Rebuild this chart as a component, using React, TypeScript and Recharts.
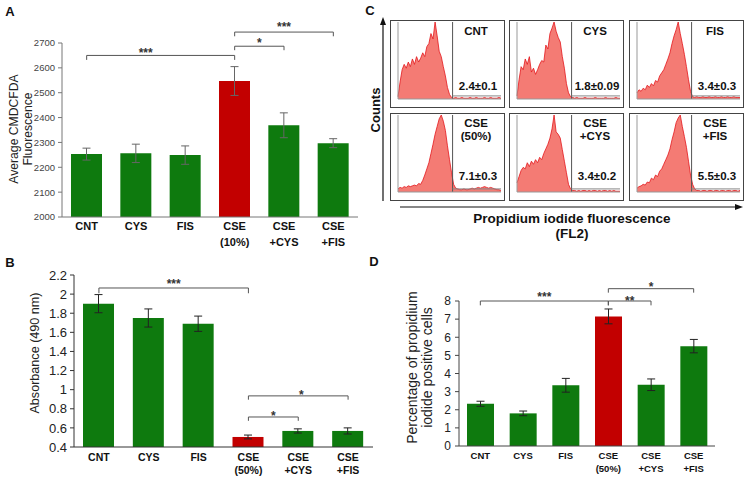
import React from "react";
import { BarChart, Bar, XAxis, YAxis, ErrorBar, Cell, ReferenceLine, AreaChart, Area } from "recharts";

// panel A: CMDCFDA fluorescence
const groupsA = ["CNT", "CYS", "FIS", "CSE\n(10%)", "CSE\n+CYS", "CSE\n+FIS"];
const rosValues = [2253, 2256, 2249, 2547, 2369, 2297];
const rosErrors = [24, 37, 37, 58, 50, 18];
const ticksA = [2000, 2100, 2200, 2300, 2400, 2500, 2600, 2700];

// panel B: absorbance
const groups50 = ["CNT", "CYS", "FIS", "CSE\n(50%)", "CSE\n+CYS", "CSE\n+FIS"];
const absValues = [1.9, 1.75, 1.69, 0.505, 0.568, 0.568];
const absErrors = [0.095, 0.095, 0.08, 0.02, 0.022, 0.032];
const ticksB = [0.4, 0.6, 0.8, 1, 1.2, 1.4, 1.6, 1.8, 2, 2.2];

// panel D: PI positive cells
const piValues = [2.33, 1.8, 3.35, 7.15, 3.38, 5.51];
const piErrors = [0.14, 0.13, 0.38, 0.41, 0.32, 0.37];
const ticksD = [0, 1, 2, 3, 4, 5, 6, 7, 8];

const bracketsA = [
  { from: 0, to: 3, y: 2650, drop: 18, stars: "***", dx: -15, dy: 2 },
  { from: 3, to: 4, y: 2687, drop: 16, stars: "*", dx: 0, dy: 1 },
  { from: 3, to: 5, y: 2744, drop: 17, stars: "***", dx: 0, dy: -1 },
];
const bracketsB = [
  { from: 0, to: 3, y: 2.064, drop: 0.055, stars: "***", dx: 0, dy: 0.5 },
  { from: 3, to: 5, y: 0.935, drop: 0.04, stars: "*", dx: 3, dy: 3 },
  { from: 3, to: 4, y: 0.714, drop: 0.04, stars: "*", dx: 0, dy: 3.5 },
];
const bracketsD = [
  { from: 0, to: 3, y: 8.0, drop: 0.24, stars: "***", dx: 0, dy: -0.5 },
  { from: 3, to: 4, y: 8.0, drop: 0.24, stars: "**", dx: 0, dy: 3.5 },
  { from: 3, to: 5, y: 8.68, drop: 0.22, stars: "*", dx: 0, dy: 2 },
];

// panel C: flow cytometry histograms (51 bins, relative counts)
const histCNT = [3, 22, 38, 45, 40, 48, 42, 52, 45, 55, 48, 53, 60, 55, 68, 72, 85, 78, 100, 82, 62, 55, 42, 30, 15, 6, 2, 1, 2, 1, 1, 2, 1, 1, 1, 2, 1, 1, 2, 1, 1, 1, 2, 1, 1, 2, 1, 1, 1, 2, 1];
const histCYS = [4, 25, 42, 38, 52, 45, 55, 35, 40, 32, 38, 45, 50, 48, 70, 65, 85, 92, 100, 88, 80, 74, 55, 40, 20, 8, 3, 2, 1, 2, 1, 1, 1, 2, 1, 1, 1, 1, 2, 1, 1, 1, 1, 2, 1, 1, 1, 1, 2, 1, 1];
const histFIS = [8, 12, 10, 14, 12, 18, 15, 20, 17, 24, 22, 30, 34, 38, 45, 52, 60, 72, 82, 90, 100, 85, 72, 58, 42, 25, 10, 3, 2, 3, 2, 2, 3, 2, 2, 3, 2, 2, 3, 2, 2, 3, 2, 2, 3, 2, 2, 3, 2, 2, 2];
const histCSE = [4, 6, 5, 7, 6, 8, 7, 8, 9, 8, 11, 10, 15, 22, 30, 38, 50, 62, 75, 85, 95, 100, 92, 80, 60, 42, 25, 10, 5, 4, 3, 3, 4, 3, 3, 4, 5, 4, 5, 6, 5, 6, 7, 6, 5, 6, 5, 4, 3, 3, 2];
const histCSECYS = [12, 20, 28, 32, 30, 38, 33, 40, 36, 42, 38, 45, 42, 50, 56, 62, 70, 82, 100, 78, 75, 70, 55, 40, 25, 10, 4, 2, 2, 1, 2, 1, 2, 2, 1, 2, 1, 2, 2, 1, 2, 1, 2, 2, 1, 2, 1, 2, 1, 1, 1];
const histCSEFIS = [5, 7, 8, 10, 9, 13, 12, 18, 16, 22, 20, 27, 30, 36, 42, 48, 56, 68, 78, 90, 96, 100, 85, 72, 58, 40, 22, 10, 4, 2, 2, 1, 2, 2, 1, 2, 2, 1, 2, 2, 1, 2, 2, 1, 2, 2, 1, 2, 2, 1, 2];
const histTitles = [["CNT"], ["CYS"], ["FIS"], ["CSE", "(50%)"], ["CSE", "+CYS"], ["CSE", "+FIS"]];
const histLabels = ["2.4±0.1", "1.8±0.09", "3.4±0.3", "7.1±0.3", "3.4±0.2", "5.5±0.3"];

const GREEN = "#0e7a0e";
const RED = "#c20000";
const FONT = "'Liberation Sans', Arial, sans-serif";

const makeTick = (size: number, first: number, gap: number) => (props: any) => {
  const { x, y, payload } = props;
  const lines = String(payload.value).split("\n");
  return (
    <g>
      {lines.map((l, i) => (
        <text key={i} x={x} y={y + first + i * gap} textAnchor="middle" fontSize={size} fontWeight="bold" fill="#111">
          {l}
        </text>
      ))}
    </g>
  );
};

const starLabel = (text: string, dx: number, dy: number) => (props: any) => {
  const vb = props.viewBox || {};
  return (
    <text x={vb.x + (vb.width || 0) / 2 + dx} y={vb.y + dy} textAnchor="middle" fontSize={12} fontWeight="bold" fill="#333">
      {text}
    </text>
  );
};

function renderBrackets(list: any[], names: string[], color: string) {
  const out: any[] = [];
  list.forEach((b, i) => {
    const a = names[b.from];
    const c = names[b.to];
    out.push(
      <ReferenceLine key={"h" + i} segment={[{ x: a, y: b.y }, { x: c, y: b.y }]} stroke={color} ifOverflow="visible" label={starLabel(b.stars, b.dx, b.dy)} />
    );
    out.push(<ReferenceLine key={"l" + i} segment={[{ x: a, y: b.y }, { x: a, y: b.y - b.drop }]} stroke={color} ifOverflow="visible" />);
    out.push(<ReferenceLine key={"r" + i} segment={[{ x: c, y: b.y }, { x: c, y: b.y - b.drop }]} stroke={color} ifOverflow="visible" />);
  });
  return out;
}

function BarPanel(p: any) {
  const data = p.names.map((name: string, i: number) => ({ name, value: p.values[i], err: p.errors[i] }));
  return (
    <div style={{ position: "absolute", left: p.left, top: p.top }}>
      <BarChart width={p.width} height={p.height} data={data} margin={p.margin}>
        <XAxis dataKey="name" interval={0} tickLine={false} tickSize={0} tickMargin={0} height={30}
          tick={makeTick(p.xFont, p.xFirst, p.xGap)} axisLine={{ stroke: p.axisColor }} />
        <YAxis domain={p.domain} ticks={p.ticks} interval={0} width={p.yWidth} allowDataOverflow tickSize={4} tickMargin={p.tickMargin}
          tick={{ fontSize: p.yFont, fill: p.tickColor }} axisLine={{ stroke: p.axisColor }} tickLine={{ stroke: p.axisColor }} />
        <Bar dataKey="value" barSize={p.barSize} isAnimationActive={false}>
          {data.map((d: any, i: number) => (
            <Cell key={i} fill={i === 3 ? RED : GREEN} />
          ))}
          <ErrorBar dataKey="err" width={4} stroke={p.errColor} strokeWidth={1} />
        </Bar>
        {renderBrackets(p.brackets, p.names, "#555")}
      </BarChart>
    </div>
  );
}

const boxes = [
  { left: 390, top: 20, hist: histCNT },
  { left: 509, top: 20, hist: histCYS },
  { left: 629, top: 20, hist: histFIS },
  { left: 390, top: 113, hist: histCSE },
  { left: 509, top: 113, hist: histCSECYS },
  { left: 629, top: 113, hist: histCSEFIS },
];

function Histo({ left, top, hist }: any) {
  const data = hist.map((c: number, i: number) => ({ bin: i, c }));
  return (
    <div style={{ position: "absolute", left, top, width: 115, height: 88, border: "1px solid #444", boxSizing: "border-box", background: "#fff" }}>
      <AreaChart width={113} height={86} data={data} margin={{ top: 1, right: 3, bottom: 2, left: 1 }}>
        <XAxis dataKey="bin" type="number" domain={[0, 50]} ticks={[1, 11.5, 22, 32.5, 43]} tick={false} tickSize={3} height={6}
          axisLine={{ stroke: "#999" }} tickLine={{ stroke: "#999" }} />
        <YAxis domain={[0, 100]} ticks={[0, 10, 20, 30, 40, 50, 60, 70, 80, 90, 100]} interval={0} tick={false} tickSize={2} width={6}
          axisLine={{ stroke: "#999" }} tickLine={{ stroke: "#999" }} />
        <Area type="linear" dataKey="c" stroke="#e3161c" strokeWidth={0.8} fill="#f47b74" fillOpacity={1} isAnimationActive={false} dot={false} />
        <ReferenceLine x={26.5} stroke="#555" ifOverflow="visible" />
        <ReferenceLine segment={[{ x: 26.5, y: 4 }, { x: 50, y: 4 }]} stroke="#888" ifOverflow="visible" />
      </AreaChart>
    </div>
  );
}

export default function App() {
  return (
    <div style={{ position: "absolute", left: 0, top: 0, width: 750, height: 479, background: "#fff", fontFamily: FONT, overflow: "hidden" }}>
      <BarPanel left={0} top={0} width={370} height={250} names={groupsA} values={rosValues} errors={rosErrors}
        margin={{ top: 43, right: 12, bottom: 3, left: 0 }} domain={[2000, 2700]} ticks={ticksA} yWidth={62} tickMargin={3}
        yFont={9.5} tickColor="#444" axisColor="#777" errColor="#666" barSize={31} xFont={11} xFirst={12.5} xGap={16}
        brackets={bracketsA} />
      <BarPanel left={0} top={240} width={375} height={239} names={groups50} values={absValues} errors={absErrors}
        margin={{ top: 35, right: 2, bottom: 2, left: 0 }} domain={[0.4, 2.2]} ticks={ticksB} yWidth={74} tickMargin={3}
        yFont={13} tickColor="#222" axisColor="#333" errColor="#222" barSize={31} xFont={10.5} xFirst={13.5} xGap={13}
        brackets={bracketsB} />
      <BarPanel left={375} top={240} width={375} height={239} names={groups50} values={piValues} errors={piErrors}
        margin={{ top: 61, right: 35, bottom: 3, left: 0 }} domain={[0, 8]} ticks={ticksD} yWidth={84} tickMargin={4}
        yFont={12} tickColor="#222" axisColor="#444" errColor="#222" barSize={27} xFont={9.5} xFirst={12.7} xGap={13}
        brackets={bracketsD} />

      {boxes.map((b, i) => (
        <Histo key={i} {...b} />
      ))}

      <svg width={750} height={479} style={{ position: "absolute", left: 0, top: 0, pointerEvents: "none" }}>
        <g fontFamily={FONT} fontWeight="bold" fill="#111">
          <text x={10} y={11} fontSize={13} textAnchor="middle" dominantBaseline="central">A</text>
          <text x={10} y={262.5} fontSize={13} textAnchor="middle" dominantBaseline="central">B</text>
          <text x={370} y={10} fontSize={13} textAnchor="middle" dominantBaseline="central">C</text>
          <text x={374} y={261} fontSize={13} textAnchor="middle" dominantBaseline="central">D</text>
        </g>
        <g fontFamily={FONT} fill="#222">
          <text transform="translate(14,129) rotate(-90)" fontSize={12.2} textAnchor="middle" dominantBaseline="central">Average CMDCFDA</text>
          <text transform="translate(28,129) rotate(-90)" fontSize={12.2} textAnchor="middle" dominantBaseline="central">Fluorescence</text>
          <text transform="translate(35,353) rotate(-90)" fontSize={12.6} textAnchor="middle" dominantBaseline="central">Absorbance (490 nm)</text>
          <text transform="translate(411.7,367.5) rotate(-90)" fontSize={14} textAnchor="middle" dominantBaseline="central">Percentage of propidium</text>
          <text transform="translate(426.7,367.5) rotate(-90)" fontSize={14} textAnchor="middle" dominantBaseline="central">iodide positive cells</text>
        </g>
        <g fontFamily={FONT} fontWeight="bold" fill="#111">
          <text transform="translate(375,110) rotate(-90)" fontSize={13} textAnchor="middle" dominantBaseline="central">Counts</text>
          <text x={572} y={218} fontSize={13.5} textAnchor="middle" dominantBaseline="central">Propidium iodide fluorescence</text>
          <text x={572} y={233} fontSize={13.5} textAnchor="middle" dominantBaseline="central">(FL2)</text>
        </g>
        <g stroke="#111" strokeWidth={1.2}>
          <line x1={383} y1={201} x2={383} y2={23} />
          <line x1={400} y1={207} x2={737} y2={207} />
        </g>
        <polygon points="383,17 380,25 386,25" fill="#111" />
        <polygon points="743,207 735,204 735,210" fill="#111" />
        <g fontFamily={FONT} fontWeight="bold" fill="#111" fontSize={11.5}>
          {boxes.map((b, i) => {
            const t = histTitles[i];
            const two = t.length > 1;
            return (
              <g key={i}>
                {t.map((s, j) => (
                  <text key={j} x={b.left + 86} y={b.top + (two ? 10 : 11) + j * 13} textAnchor="middle" dominantBaseline="central">{s}</text>
                ))}
                <text x={b.left + 88} y={b.top + (two ? 63 : 66)} textAnchor="middle" dominantBaseline="central">{histLabels[i]}</text>
              </g>
            );
          })}
        </g>
      </svg>
    </div>
  );
}
